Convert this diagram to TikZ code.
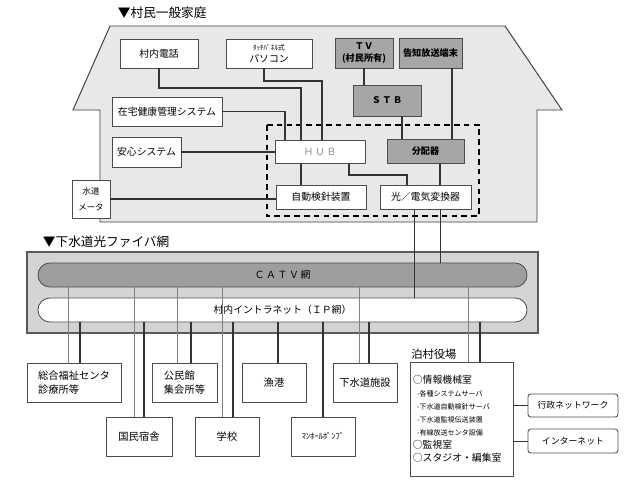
\documentclass[tikz,border=0pt]{standalone}
\usepackage{fontspec}
\setmainfont{Noto Sans CJK JP}
\begin{document}
\begin{tikzpicture}[x=0.025cm, y=-0.025cm,
  box/.style={draw=black!70, fill=white, line width=0.6pt, inner sep=1pt, font=\fontsize{7}{9}\selectfont},
  gbox/.style={box, fill=black!35, font=\fontsize{6.5}{8}\selectfont\bfseries},
  lbox/.style={box, minimum width=1.6cm, minimum height=0.975cm, font=\fontsize{7.3}{10.5}\selectfont},
  wire/.style={draw=black!80, line width=0.9pt},
  tvwire/.style={draw=black!50, line width=0.5pt},
  title/.style={anchor=west, font=\fontsize{9}{11}\selectfont}]

\useasboundingbox (0,0) rectangle (640,480);

% house
\node[title] (hometitle) at (113,13) {▼村民一般家庭};
\draw[fill=black!9, draw=black!75, line width=0.7pt] (100,222) -- (100,110) -- (73,110) -- (110,26) -- (505,26) -- (562,110) -- (537,110) -- (537,222) -- cycle;
\draw[line width=1.2pt, dash pattern=on 4pt off 3pt] (267,125) rectangle (479,216);

\node[box, minimum width=1.95cm, minimum height=0.725cm] (tel) at (159,53.5) {村内電話};
\node[box, minimum width=2.15cm, minimum height=0.725cm, align=center] (pc) at (269,53.5) {{\fontsize{5}{6}\selectfont ﾀｯﾁﾊﾟﾈﾙ式}\\パソコン};
\node[gbox, minimum width=1.45cm, minimum height=0.75cm, align=center] (tv) at (364,53) {ＴＶ\\(村民所有)};
\node[gbox, minimum width=1.575cm, minimum height=0.75cm] (kokuchi) at (430.5,53) {告知放送端末};
\node[gbox, minimum width=1.7cm, minimum height=0.775cm] (stb) at (387,100.5) {Ｓ\,Ｔ\,Ｂ};
\node[box, minimum width=2.75cm, minimum height=0.725cm] (kenko) at (167,111.5) {在宅健康管理システム};
\node[box, minimum width=1.725cm, minimum height=0.75cm] (anshin) at (146.5,152) {安心システム};
\node[box, minimum width=0.95cm, minimum height=0.95cm, align=center, font=\fontsize{6}{11}\selectfont] (meter) at (91,199) {水道\\メータ};
\node[box, minimum width=2.25cm, minimum height=0.575cm, text=black!45] (hub) at (320,151.5) {Ｈ\,Ｕ\,Ｂ};
\node[gbox, minimum width=1.925cm, minimum height=0.6cm] (bunpai) at (425.5,151) {分配器};
\node[box, minimum width=2.25cm, minimum height=0.6cm] (kenshin) at (321,197) {自動検針装置};
\node[box, minimum width=2.275cm, minimum height=0.6cm] (hikari) at (425.5,197) {光／電気変換器};

\draw[wire] (tel.south) |- (301,88) -- (301,0 |- hub.north);
\draw[wire] (264,0 |- pc.south) |- (322,81) -- (322,0 |- hub.north);
\draw[wire] (kenko.east) -| (285,0 |- hub.north);
\draw[wire] (anshin.east) -- (anshin.east -| hub.west);
\draw[wire] (meter.east) -- (meter.east -| kenshin.west);
\draw[wire] (301,0 |- hub.south) -- (301,0 |- kenshin.north);
\draw[wire] (349,0 |- hub.south) |- (407,175) -- (407,0 |- hikari.north);
\draw[wire] (tv.south) -- (tv.south |- stb.north);
\draw[wire] (402,0 |- stb.south) -- (402,0 |- bunpai.north);
\draw[wire] (452,0 |- kokuchi.south) -- (452,0 |- bunpai.north);
\draw[wire] (440,0 |- bunpai.south) -- (440,0 |- hikari.north);

% fiber network
\node[title] (nettitle) at (38,242) {▼下水道光ファイバ網};
\draw[fill=black!17, draw=black!65, line width=0.9pt] (27,252) rectangle (538,333);
\node[box, fill=black!38, rounded corners=0.3cm, minimum width=12.225cm, minimum height=0.6cm] (catv) at (282.5,275) {Ｃ\,Ａ\,Ｔ\,Ｖ\,網};
\node[box, rounded corners=0.3cm, minimum width=12.225cm, minimum height=0.6cm] (intra) at (282.5,310) {村内イントラネット（ＩＰ網）};

\draw[wire, line width=0.7pt] (440,0 |- hikari.south) -- (440,0 |- catv.north);
\draw[wire, line width=0.7pt] (414,0 |- hikari.south) -- (414,0 |- intra.north);

% facilities
\node[lbox, minimum width=2.35cm, align=left] (fukushi) at (74,382.5) {総合福祉センタ\\診療所等};
\node[lbox, minimum width=1.65cm] (shukusha) at (139,436.5) {国民宿舎};
\node[lbox, minimum width=1.625cm, align=left] (kominkan) at (184.5,382.5) {公民館\\集会所等};
\node[lbox] (gakko) at (227,436.5) {学校};
\node[lbox] (gyoko) at (274,382.5) {漁港};
\node[lbox, font=\fontsize{6}{8}\selectfont] (pump) at (323,436.5) {ﾏﾝﾎｰﾙﾎﾟﾝﾌﾟ};
\node[lbox] (gesui) at (365,382.5) {下水道施設};
\node[box, minimum height=2.85cm, text width=2.43cm, inner xsep=2pt, align=left, font=\fontsize{7}{9.2}\selectfont] (yakuba) at (461.5,419)
  {○情報機械室\\
   \hspace*{3pt}{\fontsize{5}{6}\selectfont -各種システムサーバ}\\
   \hspace*{3pt}{\fontsize{5}{6}\selectfont -下水道自動検針サーバ}\\
   \hspace*{3pt}{\fontsize{5}{6}\selectfont -下水道監視伝送装置}\\
   \hspace*{3pt}{\fontsize{5}{6}\selectfont -有線放送センタ設備}\\
   ○監視室\\
   ○スタジオ・編集室};
\node[anchor=south west, inner sep=1pt, font=\fontsize{8}{10}\selectfont] (yakubalbl) at (yakuba.north west) {泊村役場};
\node[box, rounded corners=2pt, minimum width=2.25cm, minimum height=0.575cm, font=\fontsize{6.3}{8}\selectfont] (gyosei) at (573,405.5) {行政ネットワーク};
\node[box, rounded corners=2pt, minimum width=2.25cm, minimum height=0.6cm, font=\fontsize{6.3}{8}\selectfont] (inet) at (573,441) {インターネット};

\foreach \x/\n in {68/fukushi, 134/shukusha, 177/kominkan, 222/gakko, 359/gesui, 468/yakuba}
  \draw[tvwire] (\x,0 |- catv.south) -- (\x,0 |- \n.north);
\foreach \x/\n in {80/fukushi, 144/shukusha, 191/kominkan, 233/gakko, 278/gyoko, 323/pump, 369/gesui, 480/yakuba}
  \draw[wire] (\x,0 |- intra.south) -- (\x,0 |- \n.north);

\draw[wire, line width=0.6pt] (yakuba.east |- gyosei) -- (gyosei.west);
\draw[wire, line width=0.6pt] (yakuba.east |- inet) -- (inet.west);
\end{tikzpicture}
\end{document}
